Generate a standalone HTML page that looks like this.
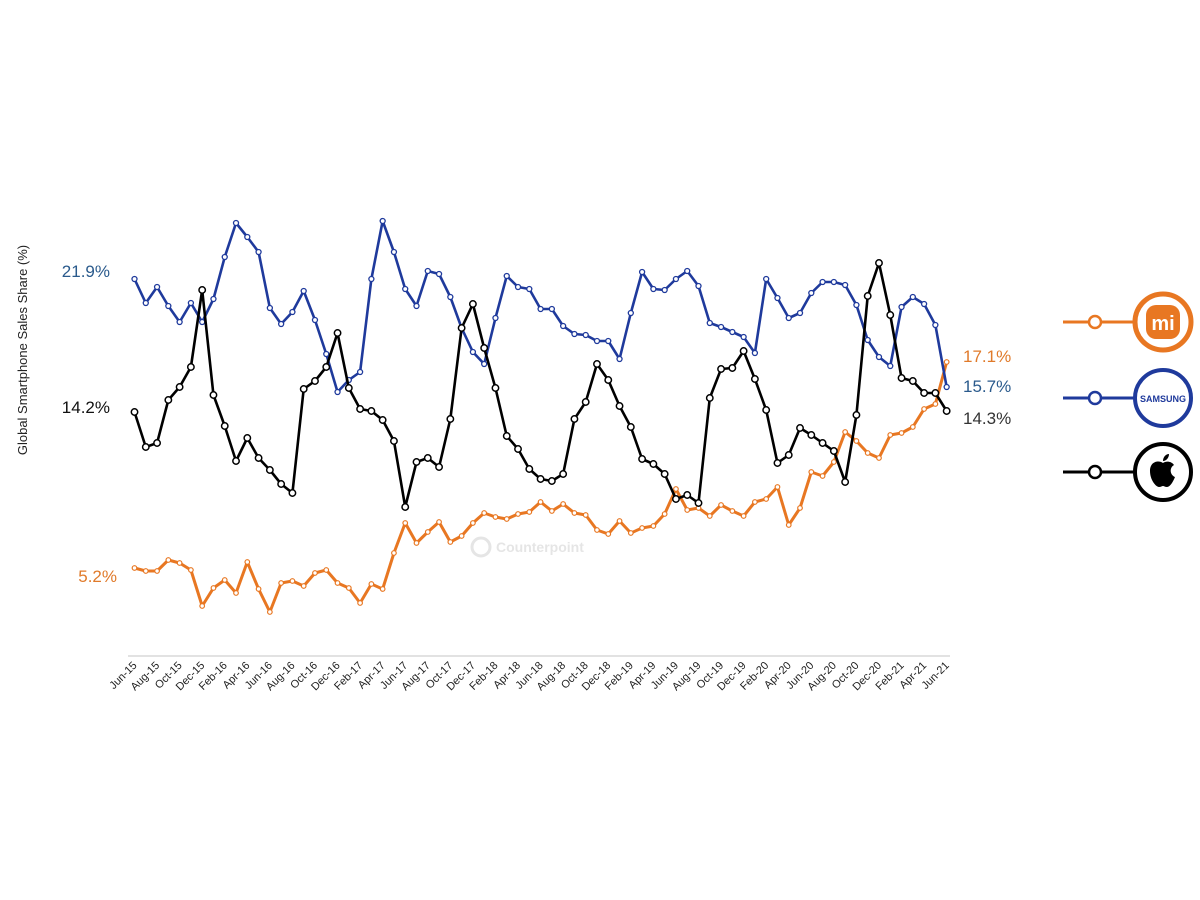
<!DOCTYPE html>
<html><head><meta charset="utf-8"><style>
body{margin:0;background:#fff;}
svg{display:block;font-family:"Liberation Sans",Arial,sans-serif;}
</style></head><body>
<svg width="1200" height="900" viewBox="0 0 1200 900" xmlns="http://www.w3.org/2000/svg">
<rect width="1200" height="900" fill="#fff"/>
<line x1="128" y1="656" x2="950" y2="656" stroke="#d9d9d9" stroke-width="1.5"/>
<text transform="translate(27,350) rotate(-90)" text-anchor="middle" font-size="13" fill="#222">Global Smartphone Sales Share (%)</text>
<text x="110" y="277" text-anchor="end" font-size="17" fill="#2a5a8c">21.9%</text>
<text x="110" y="413" text-anchor="end" font-size="17" fill="#111">14.2%</text>
<text x="117" y="582" text-anchor="end" font-size="17" fill="#e07a2a">5.2%</text>
<text x="963" y="362" font-size="17" fill="#e07a2a">17.1%</text>
<text x="963" y="392" font-size="17" fill="#2a5a8c">15.7%</text>
<text x="963" y="424" font-size="17" fill="#333">14.3%</text>
<g opacity="0.25"><circle cx="481" cy="547" r="9" fill="none" stroke="#999" stroke-width="3"/><text x="496" y="552" font-size="14" font-weight="bold" fill="#999">Counterpoint</text></g>
<g id="xl" font-size="11" fill="#222"></g>
<g id="series"></g>
<!-- legend -->
<g>
<line x1="1063" y1="322" x2="1135" y2="322" stroke="#e87722" stroke-width="3"/>
<circle cx="1095" cy="322" r="6" fill="#fff" stroke="#e87722" stroke-width="2.5"/>
<circle cx="1163" cy="322" r="28" fill="#fff" stroke="#e87722" stroke-width="5"/>
<rect x="1146" y="305" width="34" height="34" rx="10" fill="#e87722"/>
<text x="1163" y="330" text-anchor="middle" font-size="20" font-weight="bold" fill="#fff">mi</text>
<line x1="1063" y1="398" x2="1135" y2="398" stroke="#1f3a9c" stroke-width="3"/>
<circle cx="1095" cy="398" r="6" fill="#fff" stroke="#1f3a9c" stroke-width="2.5"/>
<circle cx="1163" cy="398" r="28" fill="#fff" stroke="#1f3a9c" stroke-width="4"/>
<text x="1163" y="402" text-anchor="middle" font-size="9" font-weight="bold" fill="#1f3a9c">SAMSUNG</text>
<line x1="1063" y1="472" x2="1135" y2="472" stroke="#000" stroke-width="3"/>
<circle cx="1095" cy="472" r="6" fill="#fff" stroke="#000" stroke-width="2.5"/>
<circle cx="1163" cy="472" r="28" fill="#fff" stroke="#000" stroke-width="4"/>
<path d="M1163 463 c-4-3-13-2-13 8 c0 9 6 16 9 16 c2 0 3-1 4-1 c1 0 2 1 4 1 c3 0 6-5 8-10 c-5-2-6-9-1-12 c-3-4-8-4-11-2z M1163 461 c0-4 3-7 6-7 c0 4-3 7-6 7z" fill="#000"/>
</g>
</svg>
<script>
const B=[279,303,287,306,322,303,322,299,257,223,237,252,308,324,312,291,320,354,392,380,372,279,221,252,289,306,271,274,297,328,352,364,318,276,287,289,309,309,326,334,335,341,341,359,313,272,289,290,279,271,286,323,327,332,337,353,279,298,318,313,293,282,282,285,305,340,357,366,307,297,304,325,387];
const K=[412,447,443,400,387,367,290,395,426,461,438,458,470,484,493,389,381,367,333,388,409,411,420,441,507,462,458,467,419,328,304,348,388,436,449,469,479,481,474,419,402,364,380,406,427,459,464,474,499,495,503,398,369,368,351,379,410,463,455,428,435,443,451,482,415,296,263,315,378,381,393,393,411];
const O=[568,571,571,560,563,570,606,588,580,593,562,589,612,583,581,586,573,570,583,588,603,584,589,553,523,543,532,522,542,536,523,513,517,519,514,512,502,511,504,513,515,530,534,521,533,528,526,514,489,510,508,516,505,511,516,502,499,487,525,508,472,476,462,432,441,453,458,435,433,427,409,404,362];
const X=i=>134.5+i*11.28;
const ns="http://www.w3.org/2000/svg";
const g=document.getElementById('series');
function draw(d,col,w,r,sw){
 const p=document.createElementNS(ns,'polyline');
 p.setAttribute('points',d.map((y,i)=>X(i)+','+y).join(' '));
 p.setAttribute('fill','none');p.setAttribute('stroke',col);p.setAttribute('stroke-width',w);p.setAttribute('stroke-linejoin','round');
 g.appendChild(p);
 d.forEach((y,i)=>{const c=document.createElementNS(ns,'circle');c.setAttribute('cx',X(i));c.setAttribute('cy',y);c.setAttribute('r',r);c.setAttribute('fill','#fff');c.setAttribute('stroke',col);c.setAttribute('stroke-width',sw);g.appendChild(c);});
}
draw(O,'#e87722',3,2.3,1.2);
draw(B,'#1f3a9c',2.6,2.5,1.3);
draw(K,'#000',2.6,3.2,1.5);
const m=['Jun','Aug','Oct','Dec','Feb','Apr'];
const xl=document.getElementById('xl');
for(let k=0;k<37;k++){
 const i=2*k;const mon=(5+i)%12;const yr=15+Math.floor((5+i)/12);
 const names=['Jan','Feb','Mar','Apr','May','Jun','Jul','Aug','Sep','Oct','Nov','Dec'];
 let label,x;
 if(i>72){break;}
 label=names[mon]+'-'+yr;x=X(i);
 const t=document.createElementNS(ns,'text');
 t.setAttribute('transform','translate('+(x+3)+',666) rotate(-45)');
 t.setAttribute('text-anchor','end');t.textContent=label;xl.appendChild(t);
}
// final Jun-21 label already at i=72
</script>
</body></html>
